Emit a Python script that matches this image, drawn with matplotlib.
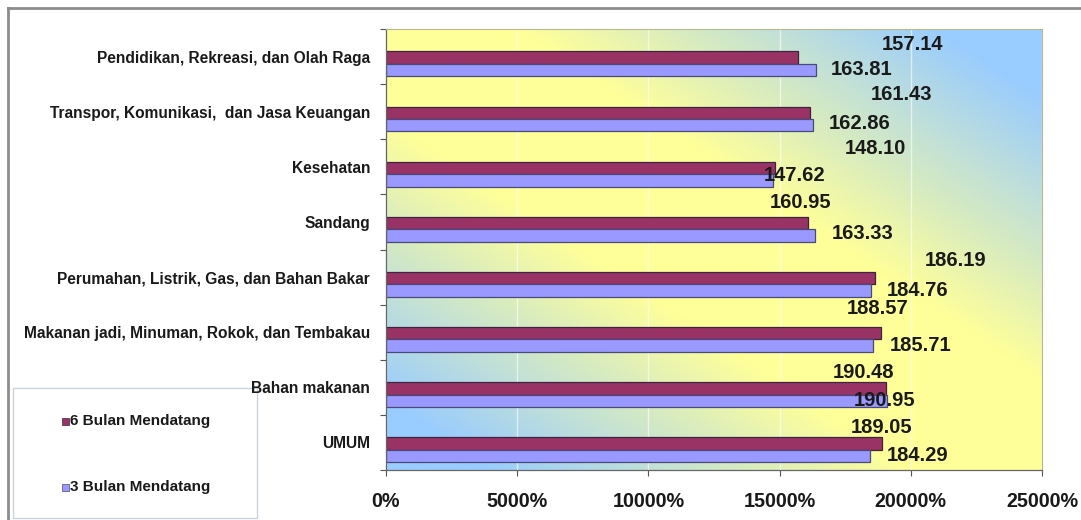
import numpy as np
import matplotlib
matplotlib.use("Agg")
import matplotlib.pyplot as plt
from matplotlib.colors import LinearSegmentedColormap
from matplotlib.patches import Rectangle
from matplotlib.lines import Line2D
from matplotlib.ticker import FuncFormatter, FixedLocator

plt.rcParams["font.family"] = ["Liberation Sans", "DejaVu Sans"]

categories = [
    "Pendidikan, Rekreasi, dan Olah Raga",
    "Transpor, Komunikasi,  dan Jasa Keuangan",
    "Kesehatan",
    "Sandang",
    "Perumahan, Listrik, Gas, dan Bahan Bakar",
    "Makanan jadi, Minuman, Rokok, dan Tembakau",
    "Bahan makanan",
    "UMUM",
]
series_names = ["6 Bulan Mendatang", "3 Bulan Mendatang"]
bulan6 = [157.14, 161.43, 148.10, 160.95, 186.19, 188.57, 190.48, 189.05]
bulan3 = [163.81, 162.86, 147.62, 163.33, 184.76, 185.71, 190.95, 184.29]
x_ticks = [0, 50, 100, 150, 200, 250]

# label placement: pixels right of the bar end, pixels above the bar centre
off6 = [(83, 13), (61, 18), (70, 19), (-39, 21), (50, 18), (-34, 25), (-53, 16), (-31, 16)]
off3 = [(15, 1), (15, 2), (-10, 5), (17, 2), (16, 0), (16, 0), (-33, 0), (17, 0)]

W, H = 1081, 520
fig = plt.figure(figsize=(W / 100, H / 100), dpi=100)
fig.patch.set_facecolor("white")

def fx(px):
    return px / W

def fy(py):
    return 1 - py / H

ax = fig.add_axes([fx(386), fy(470), (1042 - 386) / W, (470 - 29) / H])

# diagonal two-colour background: yellow along the main diagonal, blue at the other corners
cmap = LinearSegmentedColormap.from_list("bg", ["#FFFF99", "#99CCFF"])
u, v = np.meshgrid(np.linspace(0, 1, 400), np.linspace(0, 1, 300))
t = np.clip((np.abs(u - v) - 0.2) / 0.65, 0, 1)
ax.imshow(t, cmap=cmap, extent=(0, 1, 0, 1), transform=ax.transAxes,
          aspect="auto", origin="upper", zorder=0, interpolation="bilinear")

y = np.arange(len(categories))
h = 0.225
c6, c3 = "#993366", "#9999FF"
b6 = ax.barh(y + 0.02, bulan6, height=h, color=c6, edgecolor="#3d2440",
             linewidth=0.9, zorder=2, label=series_names[0])
b3 = ax.barh(y + 0.02 + h, bulan3, height=h, color=c3, edgecolor="#4a4a7a",
             linewidth=0.9, zorder=2, label=series_names[1])

for bars, vals, offs in ((b6, bulan6, off6), (b3, bulan3, off3)):
    for bar, val, (dx, dy) in zip(bars, vals, offs):
        yc = bar.get_y() + bar.get_height() / 2
        ax.annotate(f"{val:.2f}", xy=(val, yc), xytext=(dx, dy),
                    textcoords="offset pixels", ha="left", va="center",
                    fontsize=14.5, fontweight="bold", color="#1a1a1a", zorder=4)

ax.set_xlim(0, 250)
ax.set_ylim(len(categories) - 0.5, -0.5)

ax.xaxis.set_major_locator(FixedLocator(x_ticks))
ax.xaxis.set_major_formatter(FuncFormatter(lambda val, pos: f"{val * 100:.0f}%"))
ax.tick_params(axis="x", length=4, width=0.8, color="#555555", pad=12,
               labelsize=14.2, labelcolor="#1a1a1a")
for lbl in ax.get_xticklabels():
    lbl.set_fontweight("bold")

ax.set_yticks(y)
ax.set_yticklabels(categories, fontsize=11.2, fontweight="bold", color="#1a1a1a")
ax.set_yticks(np.arange(-0.5, len(categories)), minor=True)
ax.tick_params(axis="y", which="major", length=0, pad=11.5)
ax.tick_params(axis="y", which="minor", length=4, width=0.8, color="#555555")

ax.grid(axis="x", color="white", linewidth=1.0, alpha=0.6)
for g in ax.get_xgridlines():
    g.set_zorder(1)

for side in ("left", "bottom"):
    ax.spines[side].set_color("#666666")
    ax.spines[side].set_linewidth(0.9)
for side in ("top", "right"):
    ax.spines[side].set_color("#b8b890")
    ax.spines[side].set_linewidth(0.8)

# outer frame (top and left edges)
fig.add_artist(Line2D([fx(8), 1], [fy(8), fy(8)], color="#8c8c8c", linewidth=2))
fig.add_artist(Line2D([fx(8), fx(8)], [fy(8), 0], color="#8c8c8c", linewidth=2))

# legend box, drawn beneath the axes so the category labels stay on top
fig.add_artist(Rectangle((fx(13), fy(518)), fx(257 - 13), (518 - 388) / H,
                         transform=fig.transFigure, facecolor="white",
                         edgecolor="#c8d4dc", linewidth=1.0, zorder=-2))
for name, col, ec, py in ((series_names[0], c6, "#3d2440", 421),
                          (series_names[1], c3, "#4a4a7a", 487)):
    fig.add_artist(Rectangle((fx(62), fy(py + 3.5)), fx(7), 7 / H,
                             transform=fig.transFigure, facecolor=col,
                             edgecolor=ec, linewidth=0.5, zorder=-1))
    fig.text(fx(70), fy(py), name, ha="left", va="center", fontsize=11,
             fontweight="bold", color="#1a1a1a", zorder=-1)

fig.savefig("out.png", dpi=100)
